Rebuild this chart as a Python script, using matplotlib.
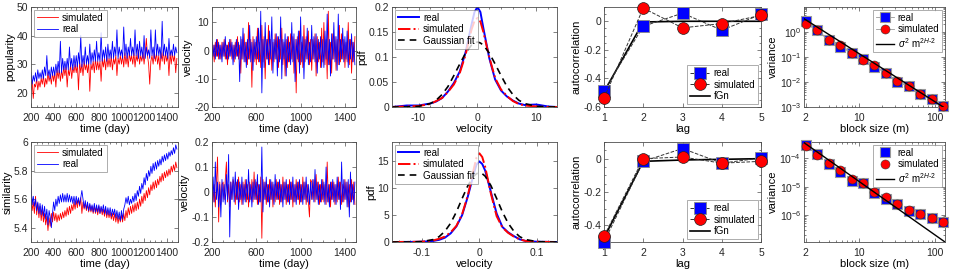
import numpy as np
import matplotlib
matplotlib.use("Agg")
import matplotlib.pyplot as plt
from matplotlib.ticker import AutoMinorLocator, FixedLocator, NullFormatter

plt.rcParams['font.family'] = ['Liberation Sans', 'DejaVu Sans']
plt.rcParams['axes.unicode_minus'] = False
plt.rcParams['mathtext.fontset'] = 'custom'
plt.rcParams['mathtext.rm'] = 'Liberation Sans'
plt.rcParams['mathtext.it'] = 'Liberation Sans:italic'

# ---------------- datos ----------------
days = np.arange(200, 1500, 10)   # eje temporal (cada 10 días)

pop_real = [27, 23, 26, 24, 27, 24, 28, 25, 27, 25,
            28, 25, 29, 26, 33, 26, 28, 25, 29, 26,
            29, 26, 30, 27, 31, 27, 38, 27, 32, 28,
            31, 28, 32, 28, 36, 29, 32, 28, 33, 29,
            33, 29, 34, 30, 40, 29, 33, 30, 36, 30,
            33, 30, 37, 30, 34, 31, 35, 31, 38, 31,
            34, 31, 41, 31, 35, 32, 36, 31, 37, 32,
            35, 32, 38, 32, 36, 33, 42, 32, 36, 33,
            35, 32, 43, 33, 37, 32, 36, 33, 39, 33,
            36, 33, 42, 33, 37, 32, 38, 33, 36, 32,
            40, 32, 36, 33, 35, 32, 42, 33, 36, 32,
            42, 33, 37, 33, 36, 32, 45, 33, 37, 33,
            36, 32, 39, 33, 35, 33, 37, 33, 36, 34]

pop_sim = [21, 24, 18, 23, 22, 25, 21, 24, 22, 25,
           23, 26, 22, 25, 23, 27, 24, 26, 23, 27,
           24, 27, 22, 28, 25, 28, 24, 28, 25, 29,
           26, 29, 22, 28, 26, 30, 25, 29, 27, 30,
           27, 30, 21, 31, 27, 30, 26, 31, 28, 30,
           27, 31, 20.5, 30, 28, 31, 27, 32, 28, 31,
           28, 31, 24, 32, 29, 32, 28, 33, 29, 32,
           29, 33, 28, 32, 30, 33, 26, 32, 30, 33,
           30, 33, 29, 34, 30, 33, 29, 34, 31, 33,
           30, 34, 29, 33, 31, 35, 30, 33, 31, 34,
           30, 34, 39, 33, 30, 23, 31, 33, 30, 34,
           31, 34, 30, 33, 28, 34, 31, 35, 30, 34,
           31, 33, 26, 34, 30, 34, 31, 33, 27, 32]

vel_pop_real = [3, -2, 2, -3, 4, -2, 3, -3, 2, -4,
                3, -2, 5, -3, 2, -3, 4, -2, 3, -5,
                2, -3, 4, -2, 3, -11, 5, -3, 8, -4,
                3, -6, 4, -3, 9, -4, 3, -7, 4, -3,
                5, -3, 8, -4, 14, -15, 4, -6, 10, -3,
                4, -5, 7, -3, 12, -8, 4, -3, 6, -9,
                5, -4, 12, -10, 4, -3, 6, -9, 5, -4,
                3, -5, 10, -4, 6, -11, 4, -3, 7, -8,
                12, -4, 5, -10, 4, -3, 8, -5, 3, -4,
                9, -3, 5, -4, 6, -8, 4, -3, 5, -6,
                4, -6, 7, -3, 13, -5, 4, -9, 6, -3,
                10, -4, 5, -7, 13, -5, 4, -3, 8, -4,
                5, -3, 7, -6, 4, -3, 6, -4, 3, -5]

vel_pop_sim = [-3, 2, -4, 3, -2, 4, -3, 2, -3, 3,
               -2, 4, -3, 2, -5, 3, -2, 4, -3, 2,
               -4, 3, -2, 5, -3, 2, -8, 4, -3, 6,
               -4, 3, -5, 10, -3, 4, -13, 5, -4, 3,
               -5, 8, -4, 3, -6, 9, -4, 5, -10, 4,
               -3, 9, -5, 4, -7, 3, -4, 6, -3, 5,
               -6, 4, -3, 8, -5, 3, -9, 4, -6, 5,
               -4, 6, -3, 5, -8, 4, -15, 5, -4, 7,
               -5, 3, -6, 9, -4, 5, -3, 7, -5, 4,
               -7, 4, -3, 6, -9, 5, -4, 3, -6, 8,
               -4, 10, -5, 4, -10, 14, -5, 3, -8, 6,
               -3, 5, -7, 4, -5, 9, -4, 6, -3, 4,
               -6, 3, -4, 10, -5, 4, -8, 3, -4, 5]

sim_real = [5.70, 5.56, 5.62, 5.55, 5.60, 5.52, 5.58, 5.50, 5.57, 5.49,
            5.56, 5.48, 5.55, 5.46, 5.53, 5.42, 5.52, 5.47, 5.40, 5.50,
            5.58, 5.52, 5.60, 5.55, 5.62, 5.57, 5.63, 5.58, 5.64, 5.58,
            5.63, 5.58, 5.64, 5.58, 5.63, 5.58, 5.62, 5.57, 5.62, 5.56,
            5.62, 5.57, 5.61, 5.56, 5.61, 5.66, 5.60, 5.54, 5.59, 5.53,
            5.58, 5.52, 5.57, 5.52, 5.56, 5.51, 5.57, 5.51, 5.56, 5.51,
            5.56, 5.50, 5.55, 5.51, 5.56, 5.50, 5.55, 5.49, 5.54, 5.49,
            5.54, 5.48, 5.53, 5.49, 5.53, 5.47, 5.52, 5.46, 5.51, 5.45,
            5.52, 5.46, 5.53, 5.56, 5.61, 5.57, 5.62, 5.56, 5.60, 5.57,
            5.62, 5.58, 5.64, 5.59, 5.66, 5.62, 5.69, 5.64, 5.71, 5.67,
            5.75, 5.70, 5.78, 5.73, 5.80, 5.76, 5.83, 5.78, 5.85, 5.80,
            5.86, 5.81, 5.87, 5.83, 5.88, 5.84, 5.90, 5.86, 5.91, 5.87,
            5.92, 5.88, 5.93, 5.90, 5.94, 5.91, 5.96, 5.92, 5.98, 5.95]

sim_sim = [5.60, 5.52, 5.58, 5.50, 5.62, 5.49, 5.57, 5.47, 5.55, 5.45,
           5.53, 5.44, 5.50, 5.42, 5.48, 5.38, 5.47, 5.41, 5.50, 5.44,
           5.51, 5.45, 5.50, 5.44, 5.49, 5.45, 5.50, 5.46, 5.51, 5.47,
           5.52, 5.48, 5.54, 5.49, 5.55, 5.50, 5.56, 5.52, 5.58, 5.53,
           5.59, 5.54, 5.60, 5.55, 5.61, 5.50, 5.58, 5.53, 5.57, 5.52,
           5.56, 5.51, 5.56, 5.51, 5.55, 5.50, 5.55, 5.50, 5.54, 5.49,
           5.55, 5.50, 5.54, 5.49, 5.53, 5.48, 5.53, 5.47, 5.52, 5.47,
           5.51, 5.46, 5.50, 5.45, 5.50, 5.44, 5.49, 5.43, 5.48, 5.44,
           5.49, 5.44, 5.50, 5.45, 5.52, 5.47, 5.54, 5.49, 5.55, 5.50,
           5.56, 5.51, 5.57, 5.52, 5.58, 5.53, 5.60, 5.55, 5.62, 5.57,
           5.64, 5.59, 5.66, 5.61, 5.68, 5.63, 5.70, 5.66, 5.72, 5.67,
           5.73, 5.68, 5.74, 5.70, 5.76, 5.72, 5.78, 5.73, 5.79, 5.75,
           5.80, 5.76, 5.81, 5.77, 5.83, 5.79, 5.84, 5.80, 5.86, 5.82]

vel_sim_real = [-0.09, 0.06, -0.04, 0.12, -0.03, 0.04, -0.06, 0.03, -0.10, 0.05,
                -0.04, 0.03, -0.05, 0.07, -0.03, 0.15, -0.18, 0.04, -0.03, 0.06,
                -0.04, 0.08, -0.03, 0.05, -0.07, 0.04, -0.03, 0.06, -0.05, 0.03,
                -0.04, 0.05, -0.03, 0.09, -0.04, 0.03, -0.06, 0.04, -0.03, 0.05,
                -0.03, 0.07, -0.05, 0.03, -0.04, 0.18, -0.08, 0.04, -0.03, 0.06,
                -0.04, 0.03, -0.06, 0.05, -0.03, 0.04, -0.05, 0.07, -0.03, 0.04,
                -0.03, 0.05, -0.04, 0.03, -0.06, 0.04, -0.03, 0.05, -0.04, 0.03,
                -0.05, 0.04, -0.03, 0.06, -0.04, 0.03, -0.05, 0.04, -0.03, 0.05,
                -0.04, 0.03, -0.05, 0.04, -0.03, 0.06, -0.04, 0.03, -0.05, 0.04,
                -0.03, 0.05, -0.04, 0.09, -0.03, 0.04, -0.05, 0.03, -0.04, 0.05,
                -0.03, 0.04, -0.05, 0.10, -0.04, 0.03, -0.06, 0.04, -0.03, 0.05,
                -0.04, 0.03, -0.05, 0.06, -0.03, 0.04, -0.07, 0.12, -0.04, 0.05,
                -0.03, 0.04, -0.06, 0.05, -0.10, 0.08, -0.04, 0.03, -0.05, 0.04]

vel_sim_sim = [0.05, -0.04, 0.03, -0.06, 0.04, 0.14, -0.12, 0.04, -0.05, 0.03,
               0.04, -0.03, 0.05, 0.12, -0.04, 0.03, -0.06, 0.04, -0.03, 0.05,
               0.03, -0.05, 0.04, -0.03, 0.06, -0.04, 0.03, -0.05, 0.04, -0.03,
               0.05, -0.04, 0.03, -0.06, 0.04, -0.03, 0.05, -0.04, 0.08, -0.03,
               0.04, -0.05, 0.03, -0.04, 0.06, -0.185, 0.05, -0.03, 0.04, -0.05,
               0.03, -0.04, 0.05, -0.03, 0.04, -0.06, 0.03, -0.04, 0.05, -0.03,
               0.04, -0.05, 0.03, -0.04, 0.06, -0.03, 0.04, -0.05, 0.03, -0.04,
               0.05, -0.03, 0.04, -0.06, 0.03, -0.04, 0.05, -0.03, 0.04, -0.05,
               0.03, -0.04, 0.06, -0.03, 0.04, -0.05, 0.03, -0.04, -0.10, 0.05,
               0.04, -0.03, 0.05, -0.04, 0.07, -0.03, 0.04, -0.05, 0.03, -0.04,
               0.05, -0.04, 0.03, -0.05, 0.12, -0.04, 0.03, -0.06, 0.04, -0.03,
               0.04, -0.05, 0.03, -0.04, 0.06, -0.03, 0.04, -0.05, 0.03, -0.04,
               0.05, -0.03, 0.04, -0.06, 0.03, -0.04, 0.05, -0.03, 0.04, -0.05]

# densidades (pdf)
vel_top = [-14.5, -12, -10, -8, -7, -6, -5, -4, -3, -2, -1, -0.5, 0,
           0.5, 1, 2, 3, 4, 5, 6, 7, 8, 10, 12, 13.5]
pdf_top_real = [0, 0.003, 0.003, 0.007, 0.011, 0.018, 0.031, 0.048, 0.071, 0.11, 0.165, 0.19, 0.2,
                0.19, 0.158, 0.098, 0.055, 0.033, 0.021, 0.013, 0.007, 0.004, 0.005, 0.001, 0]
pdf_top_sim = [0, 0.001, 0.002, 0.006, 0.012, 0.018, 0.03, 0.045, 0.068, 0.105, 0.155, 0.172, 0.178,
               0.171, 0.15, 0.1, 0.058, 0.035, 0.022, 0.012, 0.006, 0.003, 0.001, 0.0, 0]
pdf_top_gauss = [0, 0.0002, 0.0013, 0.0069, 0.0137, 0.025, 0.041, 0.063, 0.086, 0.108, 0.124, 0.128, 0.13,
                 0.128, 0.124, 0.108, 0.086, 0.063, 0.041, 0.025, 0.0137, 0.0069, 0.0013, 0.0002, 0]

vel_bot = [-0.152, -0.12, -0.1, -0.08, -0.07, -0.06, -0.05, -0.04, -0.03, -0.02, -0.01, -0.005, 0,
           0.005, 0.01, 0.02, 0.03, 0.04, 0.05, 0.06, 0.07, 0.08, 0.1, 0.12, 0.135]
pdf_bot_real = [0, 0.02, 0.05, 0.2, 0.4, 0.8, 1.6, 2.9, 5.0, 8.5, 12.6, 14.4, 15.0,
                14.5, 13.3, 9.3, 5.3, 2.8, 1.8, 1.1, 0.5, 0.2, 0.05, 0.02, 0]
pdf_bot_sim = [0, 0.02, 0.06, 0.3, 0.6, 1.0, 1.8, 3.0, 5.2, 8.7, 13.5, 15.7, 16.5,
               15.8, 14.0, 9.0, 4.8, 2.7, 1.7, 1.0, 0.5, 0.2, 0.05, 0.01, 0]
pdf_bot_gauss = [0, 0.0, 0.07, 0.46, 1.0, 2.0, 3.5, 5.6, 8.1, 10.5, 12.25, 12.7, 12.9,
                 12.7, 12.25, 10.5, 8.1, 5.6, 3.5, 2.0, 1.0, 0.46, 0.07, 0.0, 0]

# autocorrelación
lags = [1, 2, 3, 4, 5]
acf_top_real = [-0.487, -0.035, 0.057, -0.062, 0.048]
acf_top_sim = [-0.538, 0.092, -0.046, -0.016, 0.041]
acf_top_fgn = [-0.494, -0.005, 0.0, 0.0, 0.0]
acf_bot_real = [-0.50, -0.016, 0.061, -0.027, 0.004]
acf_bot_sim = [-0.465, 0.0, 0.01, -0.027, -0.016]
acf_bot_fgn = [-0.475, -0.016, -0.008, -0.004, 0.0]

# varianza agregada
block = [2, 2.83, 4, 5.66, 8, 11.3, 16, 22.6, 32, 45.3, 64, 90.5, 128]
var_top_real = [2.8, 1.2, 0.49, 0.25, 0.15, 0.08, 0.04, 0.023, 0.010, 0.0068, 0.0032, 0.0020, 0.00107]
var_top_sim = [2.1, 1.17, 0.46, 0.31, 0.15, 0.075, 0.047, 0.023, 0.0107, 0.0068, 0.0032, 0.0020, 0.00107]
fit_top_m = [1.9, 128]
fit_top_var = [3.4, 0.001]
var_bot_real = [2.9e-4, 1.4e-4, 6.2e-5, 3.4e-5, 1.6e-5, 1.3e-5, 5.8e-6, 3.6e-6, 2.4e-6, 1.4e-6, 1.05e-6, 7.6e-7, 5.8e-7]
var_bot_sim = [2.8e-4, 1.3e-4, 6.6e-5, 3.9e-5, 1.9e-5, 1.3e-5, 6.6e-6, 4.2e-6, 2.4e-6, 1.5e-6, 1.05e-6, 7.6e-7, 5.8e-7]
fit_bot_m = [1.9, 135]
fit_bot_var = [3.6e-4, 1.1e-7]

# ---------------- figura ----------------
W, H = 954, 274
fig = plt.figure(figsize=(W / 100, H / 100), dpi=100)

cols = [(31, 178), (212, 356), (392, 557), (604, 761), (804, 945)]
rows = [(7, 107), (142, 242)]
FS = 7.5
EDGE = '#4d4d4d'


def make_ax(r, c):
    (x0, x1), (y0, y1) = cols[c], rows[r]
    ax = fig.add_axes([x0 / W, (H - y1) / H, (x1 - x0) / W, (y1 - y0) / H])
    for s in ax.spines.values():
        s.set_color(EDGE)
        s.set_linewidth(0.6)
    ax.tick_params(which='both', direction='in', top=True, right=True,
                   colors=EDGE, labelcolor='#262626', labelsize=FS, width=0.5)
    ax.tick_params(which='major', length=3)
    ax.tick_params(axis='x', which='major', pad=4)
    ax.tick_params(axis='y', which='major', pad=2)
    ax.tick_params(which='minor', length=1.5)
    return ax


def leg(ax, loc, **kw):
    l = ax.legend(loc=loc, fontsize=7, frameon=True, fancybox=False,
                  edgecolor='#888888', borderpad=0.3, labelspacing=0.15,
                  handletextpad=0.4, borderaxespad=0.3, **kw)
    l.get_frame().set_linewidth(0.6)
    return l


for r, (real, simu, vreal, vsimu, ylab, ylim, yt) in enumerate([
        (pop_real, pop_sim, vel_pop_real, vel_pop_sim, 'popularity', (15, 50), [20, 30, 40, 50]),
        (sim_real, sim_sim, vel_sim_real, vel_sim_sim, 'similarity', (5.3, 6.0), [5.4, 5.6, 5.8, 6])]):
    # serie temporal
    ax = make_ax(r, 0)
    ax.plot(days, simu, color='red', lw=0.6, label='simulated')
    ax.plot(days, real, color='blue', lw=0.6, label='real')
    ax.set_xlim(200, 1500)
    ax.set_ylim(*ylim)
    ax.set_xticks([200, 400, 600, 800, 1000, 1200, 1400])
    ax.set_yticks(yt)
    ax.set_yticklabels([f'{v:g}' for v in yt])
    ax.xaxis.set_minor_locator(AutoMinorLocator(4))
    ax.set_xlabel('time (day)', fontsize=8, labelpad=1)
    ax.set_ylabel(ylab, fontsize=8, labelpad=1)
    leg(ax, 'upper left', handlelength=2.2)

    # velocidad
    ax = make_ax(r, 1)
    ax.plot(days, vsimu, color='red', lw=0.6)
    ax.plot(days, vreal, color='blue', lw=0.6)
    ax.set_xlim(200, 1500)
    ax.set_xticks([200, 600, 1000, 1400])
    ax.xaxis.set_minor_locator(AutoMinorLocator(4))
    if r == 0:
        ax.set_ylim(-20, 15.5)
        ax.set_yticks([-20, -10, 0, 10])
    else:
        ax.set_ylim(-0.2, 0.2)
        ax.set_yticks([-0.2, -0.1, 0, 0.1, 0.2])
        ax.set_yticklabels(['-0.2', '-0.1', '0', '0.1', '0.2'])
    ax.set_xlabel('time (day)', fontsize=8, labelpad=1)
    ax.set_ylabel('velocity', fontsize=8, labelpad=1)

# pdf
for r, (xv, pr, ps, pg, xl, yl, xt, yt) in enumerate([
        (vel_top, pdf_top_real, pdf_top_sim, pdf_top_gauss, (-14.5, 13.5), (0, 0.2),
         [-10, 0, 10], [0, 0.05, 0.1, 0.15, 0.2]),
        (vel_bot, pdf_bot_real, pdf_bot_sim, pdf_bot_gauss, (-0.152, 0.135), (0, 18.6),
         [-0.1, 0, 0.1], [0, 5, 10, 15])]):
    ax = make_ax(r, 2)
    ax.plot(xv, pr, color='blue', lw=1.4, label='real')
    ax.plot(xv, ps, color='red', lw=1.4, ls='-.', label='simulated')
    ax.plot(xv, pg, color='black', lw=1.2, ls=(0, (4, 3)), label='Gaussian fit')
    ax.set_xlim(*xl)
    ax.set_ylim(*yl)
    ax.set_xticks(xt)
    ax.set_xticklabels([f'{v:g}' for v in xt])
    ax.set_yticks(yt)
    ax.set_yticklabels([f'{v:g}' for v in yt])
    ax.xaxis.set_minor_locator(AutoMinorLocator(5))
    ax.set_xlabel('velocity', fontsize=8, labelpad=1)
    ax.set_ylabel('pdf', fontsize=8, labelpad=1)
    leg(ax, 'upper left', handlelength=2.2)

# autocorrelación
for r, (ar, asim, af, yl, yt) in enumerate([
        (acf_top_real, acf_top_sim, acf_top_fgn, (-0.6, 0.1), [-0.6, -0.4, -0.2, 0]),
        (acf_bot_real, acf_bot_sim, acf_bot_fgn, (-0.5, 0.1), [-0.4, -0.2, 0])]):
    ax = make_ax(r, 3)
    ax.plot(lags, ar, ls='--', color='#333333', lw=0.7, marker='s', ms=8.5,
            mfc='blue', mec='#888888', mew=0.6, label='real', clip_on=False, zorder=3)
    ax.plot(lags, asim, ls='--', color='#333333', lw=0.7, marker='o', ms=8.5,
            mfc='red', mec='#222222', mew=0.5, label='simulated', clip_on=False, zorder=4)
    ax.plot(lags, af, color='black', lw=1.2, label='fGn', zorder=2)
    ax.set_xlim(1, 5)
    ax.set_ylim(*yl)
    ax.set_xticks(lags)
    ax.set_yticks(yt)
    ax.set_yticklabels([f'{v:g}' for v in yt])
    ax.yaxis.set_minor_locator(AutoMinorLocator(4))
    ax.set_xlabel('lag', fontsize=8, labelpad=1)
    ax.set_ylabel('autocorrelation', fontsize=8, labelpad=1)
    leg(ax, 'lower right', handlelength=2.0)

# varianza
for r, (vr, vs, fm, fv, yl, yt, with_line) in enumerate([
        (var_top_real, var_top_sim, fit_top_m, fit_top_var, (1e-3, 10), [1e-3, 1e-2, 1e-1, 1e0], True),
        (var_bot_real, var_bot_sim, fit_bot_m, fit_bot_var, (1.1e-7, 3.8e-4), [1e-6, 1e-5, 1e-4], False)]):
    ax = make_ax(r, 4)
    ls = '-' if with_line else 'none'
    ax.plot(block, vr, ls=ls, color='#999999', lw=0.6, marker='s', ms=7,
            mfc='blue', mec='#999999', mew=0.8, label='real', clip_on=False, zorder=3)
    ax.plot(block, vs, ls=ls, color='#999999', lw=0.6, marker='o', ms=6.5,
            mfc='red', mec='#333333', mew=0.4, label='simulated', clip_on=False, zorder=4)
    ax.plot(fm, fv, color='black', lw=1.0, label=r'$\sigma^2$ m$^{2H\text{-}2}$', zorder=5)
    ax.set_xscale('log')
    ax.set_yscale('log')
    ax.set_xlim(1.9, 135)
    ax.set_ylim(*yl)
    ax.xaxis.set_major_locator(FixedLocator([2, 10, 100]))
    ax.set_xticklabels(['2', '10', '100'])
    ax.yaxis.set_major_locator(FixedLocator(yt))
    ax.xaxis.set_minor_formatter(NullFormatter())
    ax.set_xlabel('block size (m)', fontsize=8, labelpad=1)
    ax.set_ylabel('variance', fontsize=8, labelpad=1)
    leg(ax, 'upper right', handlelength=1.8)

fig.savefig('out.png', dpi=100)
